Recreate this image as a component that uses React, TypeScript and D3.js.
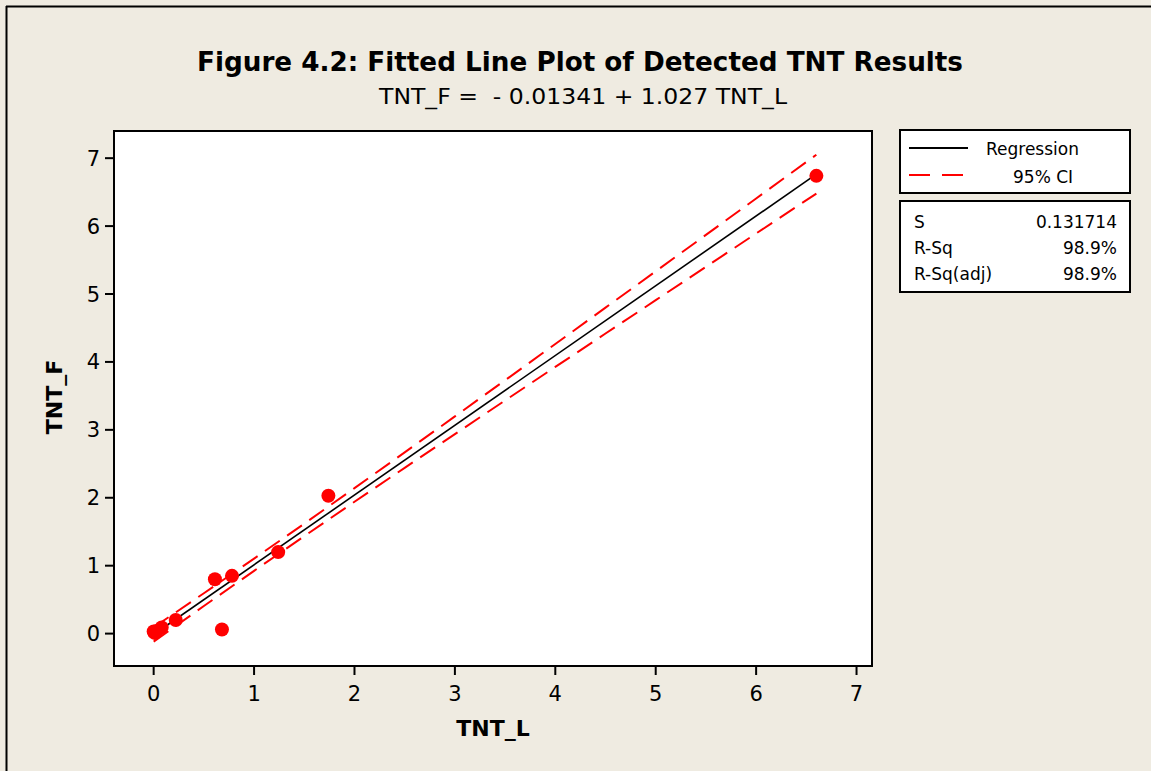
import React from "react";
import * as d3 from "d3";

const TNT_L = [0.0, 0.01, 0.03, 0.08, 0.22, 0.61, 0.68, 0.78, 1.24, 1.74, 6.6];
const TNT_F = [0.03, 0.01, 0.04, 0.09, 0.2, 0.8, 0.06, 0.85, 1.2, 2.03, 6.74];

const REG_X = [0, 6.6];
const REG_Y = [-0.0134, 6.765];

const CI_X = [0, 0.5, 1, 1.5, 2, 2.5, 3, 3.5, 4, 4.5, 5, 5.5, 6, 6.6];
const CI_UPPER = [0.091, 0.594, 1.104, 1.619, 2.141, 2.668, 3.198, 3.73, 4.264, 4.799, 5.334, 5.87, 6.407, 7.051];
const CI_LOWER = [-0.118, 0.406, 0.924, 1.435, 1.941, 2.441, 2.938, 3.432, 3.926, 4.418, 4.909, 5.4, 5.891, 6.479];

const X_TICKS = [0, 1, 2, 3, 4, 5, 6, 7];
const Y_TICKS = [0, 1, 2, 3, 4, 5, 6, 7];

const TITLE = "Figure 4.2: Fitted Line Plot of Detected TNT Results";
const SUBTITLE = "TNT_F =  - 0.01341 + 1.027 TNT_L";
const X_LABEL = "TNT_L";
const Y_LABEL = "TNT_F";
const LEGEND_ITEMS = ["Regression", "95% CI"];
const STAT_NAMES = ["S", "R-Sq", "R-Sq(adj)"];
const STAT_VALUES = ["0.131714", "98.9%", "98.9%"];

const W = 1151;
const H = 771;
const BG = "#EFEBE1";
const FONT = "'DejaVu Sans', Verdana, sans-serif";

export default function App() {
  const plot = { left: 114, right: 872, top: 131, bottom: 666 };
  const x = d3.scaleLinear().domain([-0.395, 7.154]).range([plot.left, plot.right]);
  const y = d3.scaleLinear().domain([-0.477, 7.4]).range([plot.bottom, plot.top]);

  const line = d3
    .line<[number, number]>()
    .x((d) => x(d[0]))
    .y((d) => y(d[1]));

  const regPath = line(REG_X.map((v, i) => [v, REG_Y[i]] as [number, number])) || "";
  const upPath = line(CI_X.map((v, i) => [v, CI_UPPER[i]] as [number, number])) || "";
  const loPath = line(CI_X.map((v, i) => [v, CI_LOWER[i]] as [number, number])) || "";

  const legendRowY = [148, 175];
  const statRowY = [228, 254, 280];

  return (
    <svg
      width={W}
      height={H}
      style={{ position: "absolute", left: 0, top: 0, display: "block" }}
      fontFamily={FONT}
    >
      <rect x={0} y={0} width={W} height={H} fill={BG} />
      {/* outer frame lines (top and left) */}
      <line x1={6} y1={6.5} x2={W} y2={6.5} stroke="#000" strokeWidth={2} />
      <line x1={6.5} y1={6} x2={6.5} y2={H} stroke="#000" strokeWidth={2} />

      {/* Title */}
      <text
        x={580}
        y={71}
        textAnchor="middle"
        fontWeight="bold"
        fontSize={27}
        textLength={766}
        lengthAdjust="spacingAndGlyphs"
        fill="#000"
      >
        {TITLE}
      </text>
      <text
        x={583}
        y={104}
        textAnchor="middle"
        fontSize={22}
        textLength={408}
        lengthAdjust="spacingAndGlyphs"
        style={{ whiteSpace: "pre" }}
        fill="#000"
      >
        {SUBTITLE}
      </text>

      {/* Plot area */}
      <rect
        x={plot.left}
        y={plot.top}
        width={plot.right - plot.left}
        height={plot.bottom - plot.top}
        fill="#fff"
        stroke="#000"
        strokeWidth={2}
      />

      {/* X ticks */}
      {X_TICKS.map((t) => (
        <g key={"xt" + t}>
          <line x1={x(t)} x2={x(t)} y1={plot.bottom} y2={plot.bottom + 9} stroke="#000" strokeWidth={2} />
          <text x={x(t)} y={701} textAnchor="middle" fontSize={21} fill="#000">
            {t}
          </text>
        </g>
      ))}
      {/* Y ticks */}
      {Y_TICKS.map((t) => (
        <g key={"yt" + t}>
          <line x1={plot.left - 9} x2={plot.left} y1={y(t)} y2={y(t)} stroke="#000" strokeWidth={2} />
          <text x={100} y={y(t) + 7.5} textAnchor="end" fontSize={21} fill="#000">
            {t}
          </text>
        </g>
      ))}

      {/* Axis titles */}
      <text x={493} y={736} textAnchor="middle" fontSize={22} fontWeight="bold" fill="#000">
        {X_LABEL}
      </text>
      <text
        transform={`translate(62,397) rotate(-90)`}
        textAnchor="middle"
        fontSize={22}
        fontWeight="bold"
        fill="#000"
      >
        {Y_LABEL}
      </text>

      {/* CI lines */}
      <path d={upPath} fill="none" stroke="#FF0000" strokeWidth={2} strokeDasharray="18 9" />
      <path d={loPath} fill="none" stroke="#FF0000" strokeWidth={2} strokeDasharray="18 9" />
      {/* Regression */}
      <path d={regPath} fill="none" stroke="#000" strokeWidth={1.6} />

      {/* Points */}
      {TNT_L.map((v, i) => (
        <circle key={"p" + i} cx={x(v)} cy={y(TNT_F[i])} r={7} fill="#FF0000" />
      ))}

      {/* Legend box */}
      <rect x={900} y={130} width={230} height={63} fill="#fff" stroke="#000" strokeWidth={2} />
      <line x1={909} x2={968} y1={legendRowY[0]} y2={legendRowY[0]} stroke="#000" strokeWidth={2} />
      <text x={986} y={legendRowY[0] + 7} fontSize={17} fill="#000">
        {LEGEND_ITEMS[0]}
      </text>
      <line
        x1={909}
        x2={963}
        y1={legendRowY[1]}
        y2={legendRowY[1]}
        stroke="#FF0000"
        strokeWidth={2}
        strokeDasharray="21 12"
      />
      <text x={1013} y={legendRowY[1] + 8} fontSize={17} fill="#000">
        {LEGEND_ITEMS[1]}
      </text>

      {/* Stats box */}
      <rect x={900} y={201} width={230} height={91} fill="#fff" stroke="#000" strokeWidth={2} />
      {STAT_NAMES.map((n, i) => (
        <g key={"s" + i}>
          <text x={914} y={statRowY[i]} fontSize={17} fill="#000">
            {n}
          </text>
          <text x={1117} y={statRowY[i]} fontSize={17} textAnchor="end" fill="#000">
            {STAT_VALUES[i]}
          </text>
        </g>
      ))}
    </svg>
  );
}
